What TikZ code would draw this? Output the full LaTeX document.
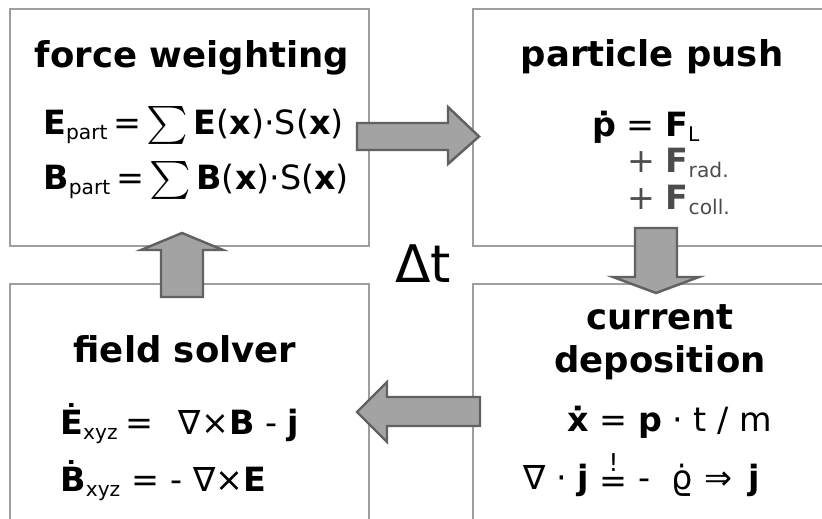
\documentclass[tikz,border=0pt]{standalone}
\usepackage{exscale}
\usepackage{fontspec}
\setmainfont{DejaVu Sans}
\usetikzlibrary{positioning}

\newcommand{\lowsub}[1]{\textsubscript{\fontsize{11.5}{11.5}\selectfont #1}}
\newcommand{\bigsum}{\scalebox{1.3}[1.25]{\(\sum\)}}
\newcommand{\bangeq}{\ensuremath{\mathrel{\stackrel{\hbox{\fontsize{14}{14}\selectfont !}}{\hbox{\raisebox{-1.7pt}{=}}}}}}

\begin{document}
\begin{tikzpicture}[x=0.02cm,y=-0.02cm,font=\fontsize{19}{23}\selectfont]
\tikzstyle{box}=[draw=black!38,line width=1.1pt,minimum width=7.18cm,minimum height=4.74cm]
\tikzstyle{ttl}=[font=\fontsize{20.2}{24}\selectfont\bfseries,anchor=base,inner sep=0]
\tikzstyle{eq}=[anchor=base west,inner sep=0]
\tikzstyle{bigarrow}=[draw=black!62,fill=black!36,line width=1.4pt,line join=miter]
\useasboundingbox (0,0) rectangle (822,519);
\clip (0,0) rectangle (822,519);
% the four stages of one time step
\foreach \n/\x/\y in {weigh/189.5/127.5,push/652.5/127.5,solve/189.5/402.5,depo/652.5/402.5} { \node[box] (\n) at (\x,\y) {}; }
\node[ttl] (tweigh) at (192,68) {force weighting};
\node[eq] (ew1) at (43,135) {\textbf{E}\lowsub{part}\hspace{3pt}=\hspace{3pt}\bigsum\hspace{3pt}\textbf{E}(\textbf{x})·S(\textbf{x})};
\node[eq] (ew2) at (43,190) {\textbf{B}\lowsub{part}\hspace{3pt}=\hspace{3pt}\bigsum\hspace{3pt}\textbf{B}(\textbf{x})·S(\textbf{x})};
\node[ttl] (tpush) at (652,67) {particle push};
\node[eq] (ep1) at (592,137) {\textbf{ṗ} = \textbf{F}\lowsub{L}};
\node[eq,text=black!70] (ep2) at (627,173) {+ \textbf{F}\lowsub{rad.}};
\node[eq,text=black!70] (ep3) at (627,210) {+ \textbf{F}\lowsub{coll.}};
\node[ttl] (tsolve) at (185,363) {field solver};
\node[eq] (es1) at (60,435) {\textbf{Ė}\lowsub{xyz}\hspace{0.2em}=\hspace{0.45em} ∇×\textbf{B} - \textbf{j}};
\node[eq] (es2) at (60,492) {\textbf{Ḃ}\lowsub{xyz} = - ∇×\textbf{E}};
\node[ttl] (tdepo1) at (660,330) {current};
\node[ttl] (tdepo2) at (660,373) {deposition};
\node[eq] (ed1) at (567,432) {\textbf{ẋ} = \textbf{p} · t / m};
\node[eq] (ed2) at (523,490) {∇ · \textbf{j} \bangeq{} -\hspace{12pt}\.{ϱ}\hspace{7pt}⇒\hspace{9pt}\textbf{j}};
\node[eq,font=\fontsize{29.5}{32}\selectfont] (dt) at (395,283) {Δt};
% block arrows between the stages
\draw[bigarrow] (357,123) -- (448,123) -- (448,107) -- (479,136.5) -- (448,164) -- (448,150) -- (357,150) -- cycle;
\draw[bigarrow] (635,228) -- (677,228) -- (677,277) -- (699,277) -- (656,293) -- (613,277) -- (635,277) -- cycle;
\draw[bigarrow] (480,397) -- (387,397) -- (387,382) -- (357,412) -- (387,442) -- (387,426) -- (480,426) -- cycle;
\draw[bigarrow] (161,297) -- (161,250) -- (141,250) -- (182,233) -- (223,250) -- (203,250) -- (203,297) -- cycle;
\end{tikzpicture}
\end{document}
